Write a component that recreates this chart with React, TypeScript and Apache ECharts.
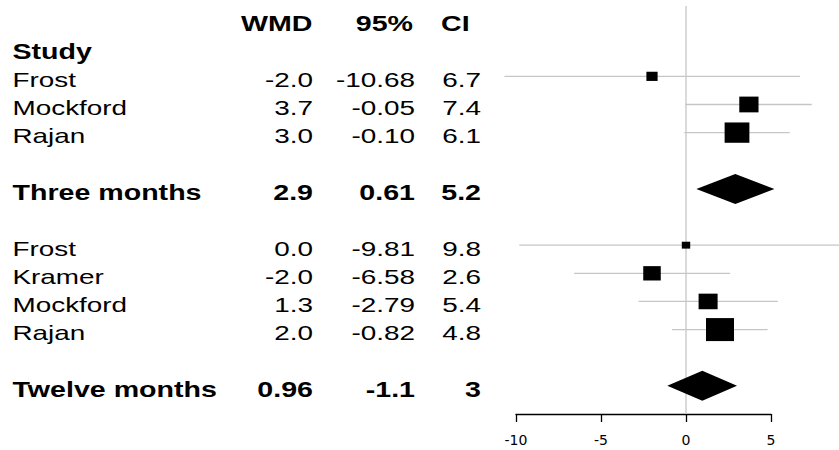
import React, { useEffect, useRef } from "react";
import * as echarts from "echarts";

// ---- data ----
const threeMonthStudies = ["Frost", "Mockford", "Rajan"];
const threeMonthWMD = [-2.0, 3.7, 3.0];
const threeMonthLower = [-10.68, -0.05, -0.1];
const threeMonthUpper = [6.7, 7.4, 6.1];
const threeMonthWeight = [16, 47, 78];

const twelveMonthStudies = ["Frost", "Kramer", "Mockford", "Rajan"];
const twelveMonthWMD = [0.0, -2.0, 1.3, 2.0];
const twelveMonthLower = [-9.81, -6.58, -2.79, -0.82];
const twelveMonthUpper = [9.8, 2.6, 5.4, 4.8];
const twelveMonthWeight = [9, 39, 46, 100];

const summaryLabels = ["Three months", "Twelve months"];
const summaryWMD = [2.9, 0.96];
const summaryLower = [0.61, -1.1];
const summaryUpper = [5.2, 3.0];

const headerLabels = ["WMD", "95%", "CI"];
const studyHeading = "Study";
const axisMin = -10;
const axisMax = 5;
const axisInterval = 5;

// ---- layout constants ----
const NAME_X = 12.5;
const COL_RIGHT = [313, 415, 481];
const HEADER_ANCHORS: { x: number; align: string }[] = [
  { x: 312.5, align: "right" },
  { x: 413, align: "right" },
  { x: 441, align: "left" },
];
const TEXT_DY = 3.3;
const NORMAL = { size: 20.5, scaleX: 1.36, weight: "normal" };
const BOLD = { size: 22, scaleX: 1.3, weight: "bold" };
const LINE_COLOR = "#c6c6c6";
const BOX_MAX_H = 23;
const BOX_ASPECT = 1.22;
const DIAMOND_HALF_H = 15;

// ---- build rows ----
const groups = [
  { names: threeMonthStudies, wmd: threeMonthWMD, lo: threeMonthLower, hi: threeMonthUpper, w: threeMonthWeight },
  { names: twelveMonthStudies, wmd: twelveMonthWMD, lo: twelveMonthLower, hi: twelveMonthUpper, w: twelveMonthWeight },
];

type Cell = { row: number; text: string; x: number; align: string; bold: boolean };
const cells: Cell[] = [];
const studyData: number[][] = [];
const summaryData: number[][] = [];

headerLabels.forEach((t, i) =>
  cells.push({ row: 0, text: t, x: HEADER_ANCHORS[i].x, align: HEADER_ANCHORS[i].align, bold: true })
);
cells.push({ row: 1, text: studyHeading, x: NAME_X, align: "left", bold: true });

const fmtSummary = (v: number) => String(Number(v.toPrecision(2)));

let r = 2;
groups.forEach((g, gi) => {
  g.names.forEach((name, i) => {
    studyData.push([g.wmd[i], g.lo[i], g.hi[i], r, g.w[i]]);
    cells.push({ row: r, text: name, x: NAME_X, align: "left", bold: false });
    cells.push({ row: r, text: g.wmd[i].toFixed(1), x: COL_RIGHT[0], align: "right", bold: false });
    cells.push({ row: r, text: g.lo[i].toFixed(2), x: COL_RIGHT[1], align: "right", bold: false });
    cells.push({ row: r, text: g.hi[i].toFixed(1), x: COL_RIGHT[2], align: "right", bold: false });
    r++;
  });
  r++; // blank
  summaryData.push([summaryWMD[gi], summaryLower[gi], summaryUpper[gi], r]);
  cells.push({ row: r, text: summaryLabels[gi], x: NAME_X, align: "left", bold: true });
  cells.push({ row: r, text: fmtSummary(summaryWMD[gi]), x: COL_RIGHT[0], align: "right", bold: true });
  cells.push({ row: r, text: fmtSummary(summaryLower[gi]), x: COL_RIGHT[1], align: "right", bold: true });
  cells.push({ row: r, text: fmtSummary(summaryUpper[gi]), x: COL_RIGHT[2], align: "right", bold: true });
  r++;
  r++; // blank
});
const yMin = -0.5;
const yMax = r - 1;

export default function App() {
  const ref = useRef<HTMLDivElement>(null);
  useEffect(() => {
    if (!ref.current) return;
    const chart = echarts.init(ref.current, undefined, { renderer: "svg" });
    chart.setOption({
      animation: false,
      backgroundColor: "#fff",
      grid: { left: 516, right: 68, top: 6, height: 408 },
      xAxis: {
        type: "value",
        min: axisMin,
        max: axisMax,
        interval: axisInterval,
        position: "bottom",
        splitLine: { show: false },
        axisLine: { show: true, onZero: false, lineStyle: { color: "#000", width: 1.3 } },
        axisTick: { show: true, inside: false, length: 8, lineStyle: { color: "#000", width: 1.3 } },
        axisLabel: { color: "#000", fontFamily: "DejaVu Sans", fontSize: 14, margin: 19 },
      },
      yAxis: { type: "value", inverse: true, min: yMin, max: yMax, show: false },
      series: [
        {
          type: "custom",
          clip: false,
          silent: true,
          z: 1,
          data: [[0]],
          renderItem: (params: any, api: any) => {
            const top = api.coord([api.value(0), yMin]);
            const bot = api.coord([api.value(0), yMax]);
            return {
              type: "line",
              shape: { x1: top[0], y1: top[1], x2: bot[0], y2: bot[1] },
              style: { stroke: LINE_COLOR, lineWidth: 1.3 },
            };
          },
        },
        {
          type: "custom",
          clip: false,
          silent: true,
          z: 2,
          data: studyData,
          renderItem: (params: any, api: any) => {
            const c = api.coord([api.value(0), api.value(3)]);
            const l = api.coord([api.value(1), api.value(3)]);
            const h = api.coord([api.value(2), api.value(3)]);
            const bh = BOX_MAX_H * Math.sqrt(api.value(4) / 100);
            const bw = bh * BOX_ASPECT;
            return {
              type: "group",
              children: [
                {
                  type: "line",
                  shape: { x1: l[0], y1: l[1], x2: h[0], y2: h[1] },
                  style: { stroke: LINE_COLOR, lineWidth: 1.3 },
                },
                {
                  type: "rect",
                  shape: { x: c[0] - bw / 2, y: c[1] - bh / 2, width: bw, height: bh },
                  style: { fill: "#000" },
                },
              ],
            };
          },
        },
        {
          type: "custom",
          clip: false,
          silent: true,
          z: 3,
          data: summaryData,
          renderItem: (params: any, api: any) => {
            const c = api.coord([api.value(0), api.value(3)]);
            const l = api.coord([api.value(1), api.value(3)]);
            const h = api.coord([api.value(2), api.value(3)]);
            return {
              type: "polygon",
              shape: {
                points: [
                  [l[0], l[1]],
                  [c[0], c[1] - DIAMOND_HALF_H],
                  [h[0], h[1]],
                  [c[0], c[1] + DIAMOND_HALF_H],
                ],
              },
              style: { fill: "#000" },
            };
          },
        },
        {
          type: "custom",
          clip: false,
          silent: true,
          z: 4,
          data: cells.map((c) => [0, c.row]),
          renderItem: (params: any, api: any) => {
            const cell = cells[params.dataIndex];
            const p = api.coord([0, api.value(1)]);
            const f = cell.bold ? BOLD : NORMAL;
            return {
              type: "text",
              x: cell.x,
              y: p[1] + TEXT_DY,
              scaleX: f.scaleX,
              scaleY: 1,
              style: {
                text: cell.text,
                x: 0,
                y: 0,
                fill: "#000",
                fontFamily: "Liberation Sans",
                fontSize: f.size,
                fontWeight: f.weight,
                align: cell.align,
                verticalAlign: "middle",
                textAlign: cell.align,
                textVerticalAlign: "middle",
              },
            };
          },
        },
      ],
    });
    return () => chart.dispose();
  }, []);
  return (
    <div
      ref={ref}
      style={{ position: "absolute", left: 0, top: 0, width: 839, height: 450 }}
    />
  );
}
